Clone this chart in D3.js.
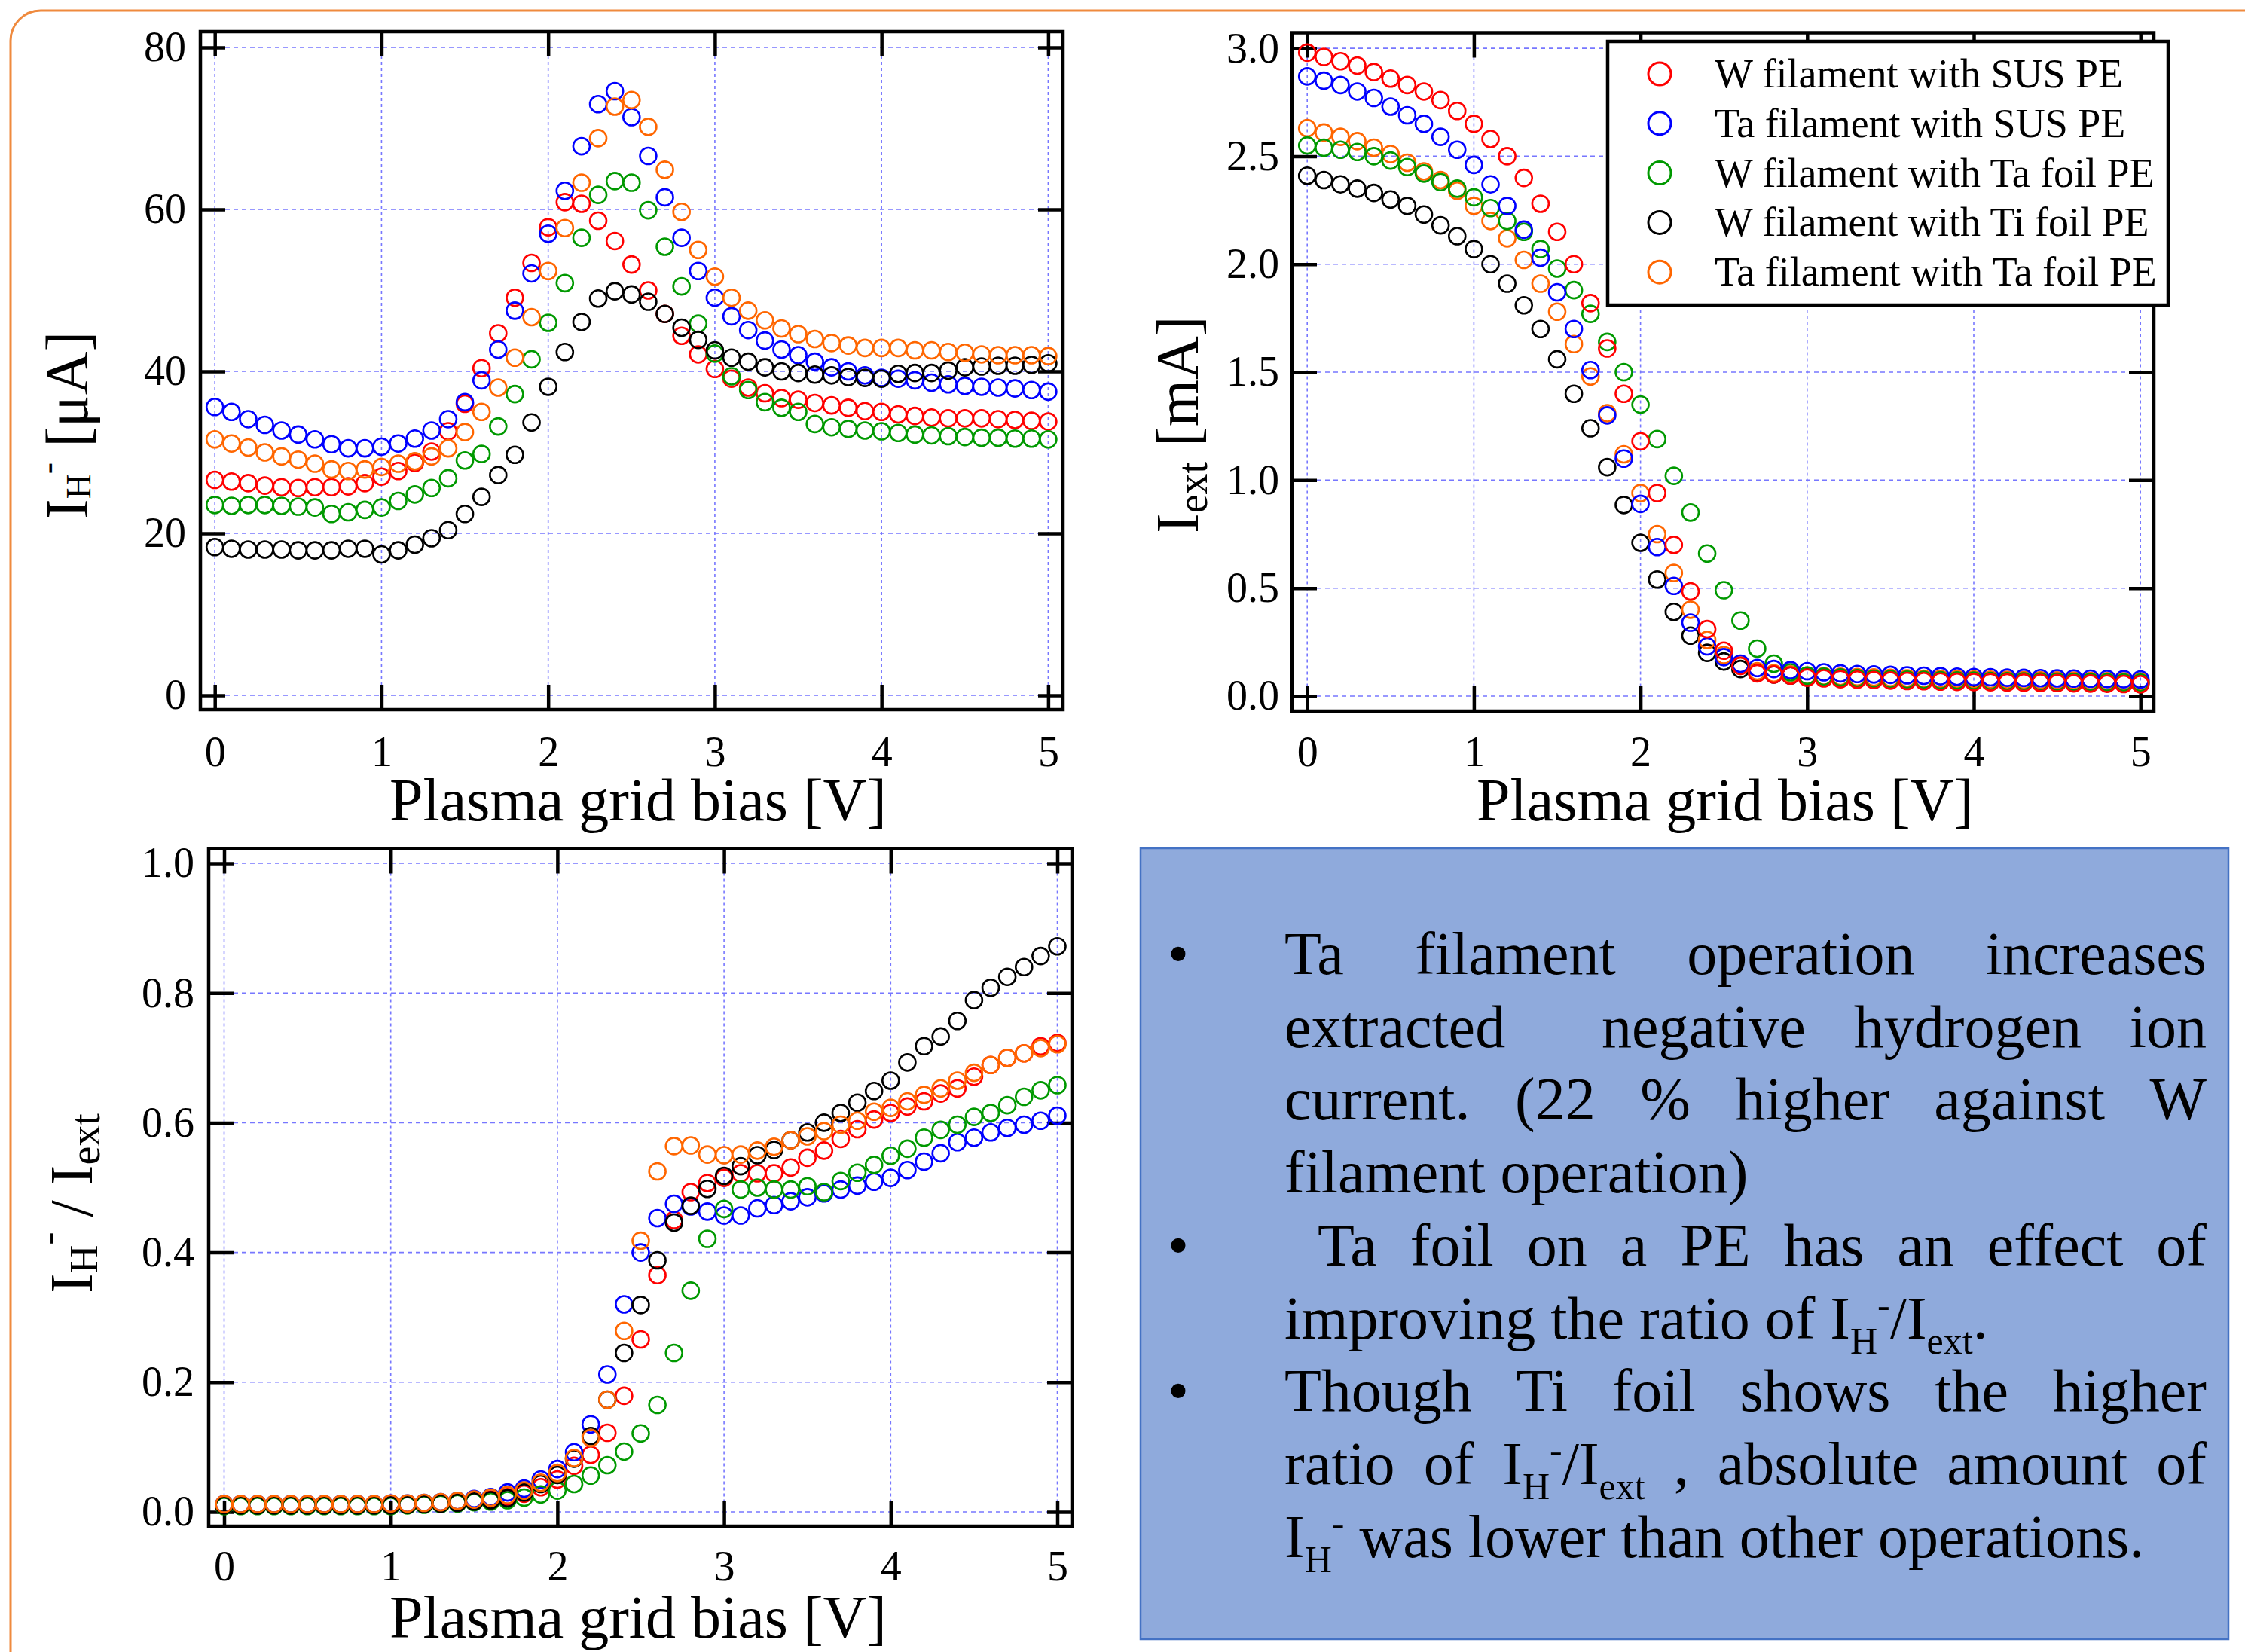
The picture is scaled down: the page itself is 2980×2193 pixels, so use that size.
<!DOCTYPE html>
<html><head><meta charset="utf-8">
<script src="https://cdn.jsdelivr.net/npm/d3@7"></script>
<style>
html,body{margin:0;padding:0;background:#fff;}
svg{display:block;}
text{font-family:"Liberation Serif","Times New Roman",serif;}
</style></head><body>
<svg id="chart" width="2980" height="2193"></svg>
<script>
// ---------------- DATA ----------------
const bias = [0.0,0.1,0.2,0.3,0.4,0.5,0.6,0.7,0.8,0.9,1.0,1.1,1.2,1.3,1.4,1.5,1.6,1.7,1.8,1.9,2.0,2.1,2.2,2.3,2.4,2.5,2.6,2.7,2.8,2.9,3.0,3.1,3.2,3.3,3.4,3.5,3.6,3.7,3.8,3.9,4.0,4.1,4.2,4.3,4.4,4.5,4.6,4.7,4.8,4.9,5.0];

const seriesNames = ["W filament with SUS PE","Ta filament with SUS PE","W filament with Ta foil PE","W filament with Ti foil PE","Ta filament with Ta foil PE"];
const seriesColors = ["#ff0000","#0000ff","#009900","#000000","#ff6600"];

const xTickValues = [0,1,2,3,4,5];
const ihTicks = [0,20,40,60,80];
const iextTicks = [0,0.5,1.0,1.5,2.0,2.5,3.0];
const ratioTicks = [0,0.2,0.4,0.6,0.8,1.0];

// I_H- [uA]
const ihWSus = [26.6,26.4,26.2,25.9,25.7,25.6,25.7,25.7,25.8,26.2,27.0,27.7,28.7,30.1,32.6,36.0,40.4,44.7,49.1,53.4,57.8,60.9,60.7,58.6,56.1,53.2,
  50.0,47.1,44.4,42.1,40.3,39.1,38.0,37.3,36.7,36.5,36.1,35.8,35.5,35.1,35.0,34.7,34.5,34.3,34.2,34.2,34.2,34.1,34.0,33.9,33.8];
const ihTaSus = [35.6,35.0,34.1,33.4,32.7,32.2,31.6,31.0,30.5,30.5,30.7,31.1,31.7,32.7,34.1,36.2,38.9,42.7,47.5,52.1,57.0,62.3,67.8,73.0,74.6,71.4,
  66.6,61.5,56.5,52.4,49.1,46.8,45.1,43.8,42.7,42.0,41.2,40.5,40.0,39.5,39.2,39.1,38.9,38.6,38.4,38.2,38.1,38.0,37.9,37.7,37.5];
const ihWTaFoil = [23.5,23.4,23.5,23.5,23.4,23.3,23.2,22.4,22.6,22.9,23.2,24.0,24.8,25.6,26.8,29.0,29.8,33.2,37.2,41.5,46.0,50.9,56.5,61.8,63.5,63.3,
  59.9,55.4,50.5,45.9,42.2,39.4,37.7,36.2,35.5,35.0,33.5,33.1,32.9,32.7,32.6,32.4,32.2,32.1,32.0,31.9,31.8,31.8,31.7,31.7,31.6];
const ihWTiFoil = [18.3,18.1,18.0,18.0,18.0,17.9,17.9,17.9,18.1,18.1,17.4,17.9,18.6,19.4,20.4,22.4,24.5,27.2,29.7,33.7,38.1,42.4,46.1,49.0,49.9,49.5,
  48.6,47.1,45.4,43.9,42.6,41.7,41.2,40.5,40.0,39.8,39.6,39.5,39.3,39.2,39.1,39.7,39.8,39.8,40.1,40.5,40.6,40.7,40.7,40.8,41.0];
const ihTaTaFoil = [31.6,31.1,30.6,30.0,29.5,29.1,28.6,27.9,27.7,27.9,28.2,28.6,28.9,29.5,30.5,32.5,35.0,38.0,41.7,46.7,52.4,57.7,63.3,68.8,72.7,73.5,
  70.2,64.9,59.7,55.0,51.7,49.1,47.5,46.3,45.3,44.6,44.0,43.5,43.2,42.9,42.9,42.9,42.6,42.6,42.4,42.3,42.1,42.0,42.0,42.0,41.9];

// I_ext [mA]
const iextWSus = [2.98,2.96,2.94,2.92,2.89,2.86,2.83,2.80,2.76,2.71,2.65,2.58,2.50,2.40,2.28,2.15,2.00,1.82,1.61,1.40,1.18,0.94,0.70,0.485,0.31,0.21,
  0.14,0.105,0.10,0.095,0.085,0.082,0.078,0.076,0.074,0.072,0.070,0.069,0.067,0.066,0.065,0.064,0.063,0.062,0.061,0.060,0.059,0.058,0.057,0.056,0.055];
const iextTaSus = [2.87,2.85,2.83,2.80,2.77,2.73,2.69,2.65,2.59,2.53,2.46,2.37,2.27,2.16,2.03,1.87,1.70,1.51,1.30,1.10,0.89,0.69,0.51,0.34,0.23,0.18,
  0.15,0.13,0.125,0.12,0.115,0.11,0.105,0.102,0.100,0.098,0.096,0.094,0.092,0.090,0.088,0.087,0.085,0.084,0.083,0.082,0.081,0.080,0.079,0.078,0.077];
const iextWTaFoil = [2.55,2.54,2.53,2.52,2.50,2.48,2.45,2.42,2.38,2.35,2.31,2.26,2.20,2.15,2.07,1.98,1.88,1.77,1.64,1.50,1.35,1.19,1.02,0.85,0.66,0.49,
  0.35,0.22,0.15,0.11,0.095,0.09,0.086,0.083,0.080,0.078,0.076,0.075,0.073,0.072,0.071,0.070,0.069,0.068,0.067,0.066,0.065,0.065,0.064,0.063,0.062];
const iextWTiFoil = [2.41,2.39,2.37,2.35,2.33,2.30,2.27,2.23,2.18,2.13,2.07,2.00,1.91,1.81,1.70,1.56,1.40,1.24,1.06,0.885,0.71,0.54,0.39,0.28,0.20,0.16,
  0.125,0.11,0.10,0.095,0.09,0.087,0.085,0.083,0.081,0.079,0.077,0.076,0.075,0.074,0.073,0.072,0.071,0.070,0.069,0.068,0.067,0.066,0.065,0.064,0.063];
const iextTaTaFoil = [2.63,2.61,2.59,2.57,2.54,2.51,2.47,2.43,2.39,2.34,2.27,2.20,2.12,2.02,1.91,1.78,1.63,1.48,1.31,1.12,0.94,0.75,0.57,0.40,0.26,0.19,
  0.14,0.115,0.105,0.10,0.095,0.092,0.090,0.088,0.086,0.084,0.082,0.080,0.079,0.078,0.077,0.076,0.075,0.074,0.073,0.072,0.071,0.070,0.069,0.068,0.067];

// I_H- / I_ext
const ratioWSus = [0.011,0.011,0.011,0.011,0.011,0.011,0.011,0.011,0.011,0.011,0.012,0.012,0.013,0.014,0.015,0.017,0.019,0.023,0.028,0.038,0.050,
  0.071,0.088,0.122,0.179,0.266,0.365,0.450,0.493,0.507,0.515,0.522,0.522,0.522,0.531,0.546,0.557,0.575,0.590,0.605,0.615,0.625,0.633,0.645,0.653,0.671,0.689,0.700,0.707,0.718,0.723];
const ratioTaSus = [0.012,0.012,0.012,0.012,0.012,0.012,0.012,0.012,0.012,0.012,0.013,0.013,0.014,0.015,0.017,0.020,0.023,0.030,0.036,0.050,0.066,
  0.092,0.135,0.212,0.320,0.400,0.453,0.475,0.471,0.463,0.457,0.457,0.468,0.473,0.479,0.485,0.491,0.497,0.503,0.509,0.515,0.527,0.540,0.553,0.570,0.577,0.585,0.592,0.597,0.603,0.611];
const ratioWTaFoil = [0.009,0.009,0.009,0.009,0.009,0.009,0.009,0.009,0.009,0.009,0.009,0.010,0.011,0.012,0.013,0.015,0.016,0.018,0.022,0.027,0.033,
  0.043,0.056,0.072,0.093,0.121,0.165,0.245,0.341,0.421,0.467,0.497,0.500,0.497,0.497,0.502,0.493,0.510,0.523,0.535,0.549,0.560,0.577,0.589,0.597,0.609,0.615,0.627,0.640,0.650,0.658];
const ratioWTiFoil = [0.010,0.010,0.010,0.010,0.010,0.010,0.010,0.010,0.010,0.010,0.010,0.011,0.012,0.013,0.014,0.016,0.018,0.021,0.030,0.043,0.057,
  0.082,0.117,0.173,0.245,0.319,0.388,0.446,0.472,0.498,0.518,0.533,0.550,0.558,0.573,0.585,0.600,0.615,0.631,0.649,0.665,0.693,0.718,0.733,0.757,0.789,0.808,0.825,0.840,0.857,0.872];
const ratioTaTaFoil = [0.012,0.012,0.012,0.012,0.012,0.012,0.012,0.012,0.012,0.012,0.013,0.013,0.014,0.015,0.017,0.019,0.022,0.026,0.033,0.045,0.060,
  0.083,0.114,0.173,0.279,0.418,0.525,0.564,0.565,0.551,0.550,0.551,0.557,0.563,0.573,0.579,0.587,0.597,0.603,0.617,0.623,0.633,0.643,0.653,0.665,0.677,0.689,0.700,0.707,0.715,0.721];

const bulletLines = [
  ["Ta filament operation increases", "extracted  negative hydrogen ion", "current. (22 % higher against W", "filament operation)"],
  [" Ta foil on a PE has an effect of", "improving the ratio of I_H^-/I_ext."],
  ["Though Ti foil shows the higher", "ratio of I_H^-/I_ext , absolute amount of", "I_H^- was lower than other operations."]
];

// ---------------- DRAW ----------------
const svg = d3.select("#chart");
svg.append("rect").attr("width",2980).attr("height",2193).attr("fill","#fff");
svg.append("rect").attr("x",14).attr("y",14).attr("width",3300).attr("height",2600)
  .attr("rx",40).attr("ry",40).attr("fill","none").attr("stroke","#ef8a3e").attr("stroke-width",3);

const FONT = '"Liberation Serif","Times New Roman",serif';

function panel(cfg){
  const g = svg.append("g");
  const x = d3.scaleLinear().domain([0,5]).range([cfg.x0, cfg.x5]);
  const y = d3.scaleLinear().domain(cfg.ydom).range([cfg.yb, cfg.yt]);
  const F = cfg.frame; // [l,t,r,b]
  // grid
  g.append("g").selectAll("line").data(xTickValues).join("line")
    .attr("x1",d=>x(d)).attr("x2",d=>x(d)).attr("y1",F[1]).attr("y2",F[3])
    .attr("stroke","#7777ff").attr("stroke-width",1.6).attr("stroke-dasharray","4,4");
  g.append("g").selectAll("line").data(cfg.yticks).join("line")
    .attr("y1",d=>y(d)).attr("y2",d=>y(d)).attr("x1",F[0]).attr("x2",F[2])
    .attr("stroke","#7777ff").attr("stroke-width",1.6).attr("stroke-dasharray","6,5");
  // axes
  const TL = 33;
  const style = sel => { sel.select(".domain").remove();
    sel.selectAll(".tick line").attr("stroke","#000").attr("stroke-width",4.5);
    sel.attr("font-family",FONT).attr("font-size",56);
    sel.selectAll("text").attr("fill","#000"); };
  g.append("g").attr("transform",`translate(${F[0]},0)`)
    .call(d3.axisLeft(y).tickValues(cfg.yticks).tickFormat(cfg.yfmt).tickSizeInner(-TL).tickSizeOuter(0).tickPadding(cfg.ypad)).call(style);
  g.append("g").attr("transform",`translate(${F[2]},0)`)
    .call(d3.axisRight(y).tickValues(cfg.yticks).tickFormat("").tickSizeInner(-TL).tickSizeOuter(0)).call(style);
  g.append("g").attr("transform",`translate(0,${F[3]})`)
    .call(d3.axisBottom(x).tickValues(xTickValues).tickFormat(d3.format("d")).tickSizeInner(-TL).tickSizeOuter(0).tickPadding(cfg.xpad)).call(style);
  g.append("g").attr("transform",`translate(0,${F[1]})`)
    .call(d3.axisTop(x).tickValues(xTickValues).tickFormat("").tickSizeInner(-TL).tickSizeOuter(0)).call(style);
  // frame
  g.append("rect").attr("x",F[0]).attr("y",F[1]).attr("width",F[2]-F[0]).attr("height",F[3]-F[1])
    .attr("fill","none").attr("stroke","#000").attr("stroke-width",4.5);
  // data
  cfg.order.forEach(i=>{
    const vals = cfg.series[i];
    g.append("g").selectAll("circle").data(bias.map((b,k)=>[b,vals[k]])).join("circle")
      .attr("cx",d=>x(d[0])).attr("cy",d=>y(d[1])).attr("r",11)
      .attr("fill","none").attr("stroke",seriesColors[i]).attr("stroke-width",2.6);
  });
  // x title
  g.append("text").attr("x",cfg.xtitleX).attr("y",cfg.xtitleY).attr("text-anchor","middle")
    .attr("font-size",80).attr("font-family",FONT).text("Plasma grid bias [V]");
  return g;
}

function ytitle(g, tx, ty, segs){
  const t = g.append("text").attr("transform",`translate(${tx},${ty}) rotate(-90)`)
    .attr("font-family",FONT).attr("text-anchor","start");
  let cur = 0;
  segs.forEach(s=>{
    const off = s.off||0;
    t.append("tspan").attr("font-size",s.fs||80).attr("dy",off-cur).text(s.t);
    cur = off;
  });
}

const p1 = panel({x0:285.2,x5:1391.4,ydom:[0,80],yb:923,yt:63,frame:[266,42,1411,942],
  yticks:ihTicks,yfmt:d3.format("d"),ypad:19,xpad:35,
  series:[ihWSus,ihTaSus,ihWTaFoil,ihWTiFoil,ihTaTaFoil],order:[0,1,2,3,4],xtitleX:847,xtitleY:1089});
ytitle(p1,116,689,[{t:"I"},{t:"H",fs:46,off:4},{t:"-",fs:46,off:-38},{t:" [μA]",off:0}]);

const p2 = panel({x0:1735.2,x5:2841.2,ydom:[0,3],yb:924,yt:64.1,frame:[1715,43.5,2859,944],
  yticks:iextTicks,yfmt:d3.format(".1f"),ypad:17,xpad:33,
  series:[iextWSus,iextTaSus,iextWTaFoil,iextWTiFoil,iextTaTaFoil],order:[3,4,2,1,0],xtitleX:2290,xtitleY:1089});
ytitle(p2,1590,708,[{t:"I"},{t:"ext",fs:56,off:12},{t:" [mA]",off:0}]);

const p3 = panel({x0:297.5,x5:1403.5,ydom:[0,1],yb:2007,yt:1146,frame:[277,1126.5,1423,2026],
  yticks:ratioTicks,yfmt:d3.format(".1f"),ypad:19,xpad:32,
  series:[ratioWSus,ratioTaSus,ratioWTaFoil,ratioWTiFoil,ratioTaTaFoil],order:[0,1,2,3,4],xtitleX:847,xtitleY:2174});
ytitle(p3,122,1717,[{t:"I"},{t:"H",fs:52,off:7},{t:"-",fs:52,off:-40},{t:" / I",off:0},{t:"ext",fs:56,off:10}]);

// legend
const lg = svg.append("g");
lg.append("rect").attr("x",2134).attr("y",55).attr("width",744).attr("height",350)
  .attr("fill","#fff").attr("stroke","#000").attr("stroke-width",4.5);
seriesNames.forEach((n,i)=>{
  const cy = 98 + i*65.8;
  lg.append("circle").attr("cx",2203).attr("cy",cy).attr("r",15).attr("fill","none")
    .attr("stroke",seriesColors[i]).attr("stroke-width",3);
  lg.append("text").attr("x",2276).attr("y",cy+18).attr("font-size",54).attr("font-family",FONT).text(n);
});

// text box
const tb = svg.append("g");
tb.append("rect").attr("x",1514).attr("y",1126).attr("width",1444).attr("height",1050)
  .attr("fill","#8faadc").attr("stroke","#4472c4").attr("stroke-width",2.5);

function parseSegs(str){
  // I_H^-  / I_ext notation
  const segs = [];
  const re = /_([A-Za-z]+)|\^(-)/g;
  let last = 0, m;
  while((m = re.exec(str))){
    if(m.index>last) segs.push({t:str.slice(last,m.index),k:0});
    if(m[1]) segs.push({t:m[1],k:1}); else segs.push({t:m[2],k:2});
    last = re.lastIndex;
  }
  if(last<str.length) segs.push({t:str.slice(last),k:0});
  return segs;
}
function addText(g, str, baseline){
  const t = g.append("text").attr("y",baseline).attr("font-size",80).attr("font-family",FONT).attr("fill","#000");
  let cur = 0;
  parseSegs(str).forEach(s=>{
    const off = s.k===1?20:(s.k===2?-28:0);
    t.append("tspan").attr("font-size",s.k?50:80).attr("dy",off-cur).text(s.t);
    cur = off;
  });
  return t;
}
const LX = 1705, RX = 2929, B0 = 1293, LS = 96.7;
let lineIdx = 0;
bulletLines.forEach(par=>{
  par.forEach((line,j)=>{
    const base = B0 + lineIdx*LS;
    if(j===0) tb.append("text").attr("x",1550).attr("y",base).attr("font-size",80).attr("font-family",FONT).text("•");
    const last = j===par.length-1;
    if(last){
      addText(tb,line,base).attr("x",LX).attr("xml:space","preserve");
    } else {
      const toks = line.split(" ");
      const els = toks.map(tk=>addText(tb,tk,base));
      const w = els.map(e=>e.node().getComputedTextLength());
      const gap = (RX-LX-d3.sum(w))/(toks.length-1);
      let xx = LX;
      els.forEach((e,k)=>{ e.attr("x",xx); xx += w[k]+gap; });
    }
    lineIdx++;
  });
});
</script>
</body></html>
